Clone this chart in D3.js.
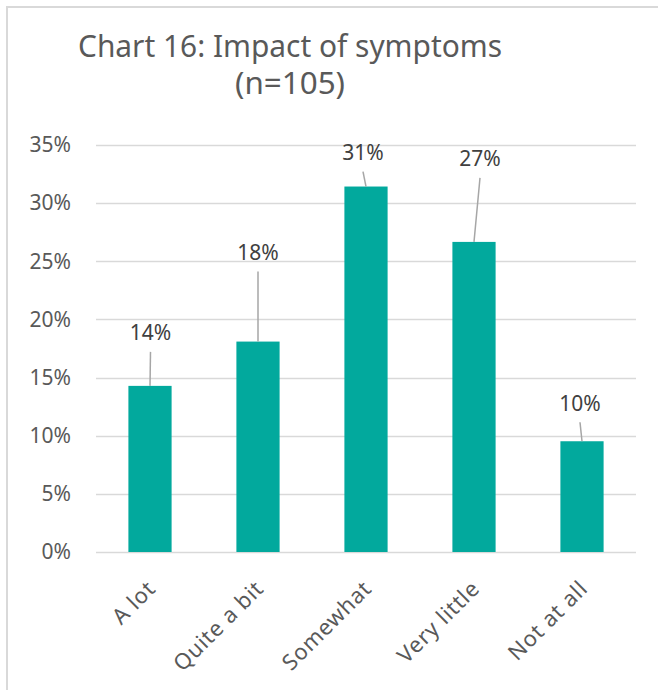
<!DOCTYPE html>
<html>
<head>
<meta charset="utf-8">
<script src="https://cdn.jsdelivr.net/npm/d3@7"></script>
<style>
  html, body { margin: 0; padding: 0; background: #fff; }
  svg { display: block; }
  text { font-family: "Noto Sans", "Open Sans", sans-serif; }
</style>
</head>
<body>
<svg id="chart" width="658" height="690"></svg>
<script>
// Survey responses, n = 105
const categories = ["A lot", "Quite a bit", "Somewhat", "Very little", "Not at all"];
const counts = [15, 19, 33, 28, 10];
const total = 105;
const shares = counts.map(c => c / total);
const yTicks = [0, 0.05, 0.10, 0.15, 0.20, 0.25, 0.30, 0.35];
const titleLines = ["Chart 16: Impact of symptoms", "(n=105)"];

// Label nudges (pixels) relative to the top centre of each bar
const labelNudge = [[0.5, -53], [0, -89], [-3, -34], [6, -83], [-2, -38]];

const svg = d3.select("#chart");
const W = 658, H = 690;
const plot = { left: 96, right: 636, top: 145, bottom: 552 };

// outer frame (only the top and left edges fall inside the view)
svg.append("rect")
  .attr("x", 7).attr("y", 7)
  .attr("width", W + 20).attr("height", H + 20)
  .attr("fill", "#fff")
  .attr("stroke", "#D9D9D9").attr("stroke-width", 2);

const x = d3.scaleBand()
  .domain(categories)
  .range([plot.left, plot.right])
  .paddingInner(0.6).paddingOuter(0.3);

const y = d3.scaleLinear()
  .domain([0, 0.35])
  .range([plot.bottom, plot.top]);

// title, two centred lines
const title = svg.append("g").attr("fill", "#595959");
title.append("text")
  .attr("x", 290).attr("y", 57)
  .attr("text-anchor", "middle")
  .attr("font-size", 31)
  .attr("textLength", 424).attr("lengthAdjust", "spacingAndGlyphs")
  .text(titleLines[0]);
title.append("text")
  .attr("x", 290).attr("y", 94)
  .attr("text-anchor", "middle")
  .attr("font-size", 31)
  .attr("textLength", 110).attr("lengthAdjust", "spacingAndGlyphs")
  .text(titleLines[1]);

// gridlines
svg.append("g")
  .selectAll("line")
  .data(yTicks)
  .join("line")
  .attr("x1", plot.left).attr("x2", plot.right)
  .attr("y1", d => Math.round(y(d)) + 0.5).attr("y2", d => Math.round(y(d)) + 0.5)
  .attr("stroke", "#D9D9D9").attr("stroke-width", 1.6);

// y axis labels
const yAxis = d3.axisLeft(y)
  .tickValues(yTicks)
  .tickFormat(d3.format(".0%"))
  .tickSize(0).tickPadding(0);
const yg = svg.append("g")
  .attr("transform", `translate(71,0)`)
  .call(yAxis);
yg.select(".domain").remove();
yg.selectAll("text")
  .attr("font-size", 21)
  .attr("fill", "#595959")
  .attr("font-family", "Noto Sans, sans-serif");

// bars
svg.append("g")
  .selectAll("rect")
  .data(categories)
  .join("rect")
  .attr("x", d => x(d))
  .attr("width", x.bandwidth())
  .attr("y", (d, i) => y(shares[i]))
  .attr("height", (d, i) => y(0) - y(shares[i]))
  .attr("fill", "#02A99D");

// category labels, rotated
const xAxis = d3.axisBottom(x).tickSize(0).tickPadding(0);
const xg = svg.append("g")
  .attr("transform", `translate(0,${plot.bottom})`)
  .call(xAxis);
xg.select(".domain").remove();
xg.selectAll("text")
  .attr("font-size", 22)
  .attr("letter-spacing", 0.8)
  .attr("fill", "#595959")
  .attr("font-family", "Noto Sans, sans-serif")
  .attr("text-anchor", "end")
  .attr("dy", 0)
  .attr("transform", "translate(7,38) rotate(-45)");

// data labels with leader lines
const labels = svg.append("g");
categories.forEach((c, i) => {
  const bx = x(c) + x.bandwidth() / 2;
  const by = y(shares[i]);
  const lx = bx + labelNudge[i][0];
  const ly = by + labelNudge[i][1];
  labels.append("line")
    .attr("x1", lx).attr("y1", ly + 19)
    .attr("x2", bx).attr("y2", by)
    .attr("stroke", "#A6A6A6").attr("stroke-width", 1.5);
  labels.append("text")
    .attr("x", lx).attr("y", ly)
    .attr("dy", "0.36em")
    .attr("text-anchor", "middle")
    .attr("font-size", 21)
    .attr("fill", "#404040")
    .text(d3.format(".0%")(shares[i]));
});
</script>
</body>
</html>
